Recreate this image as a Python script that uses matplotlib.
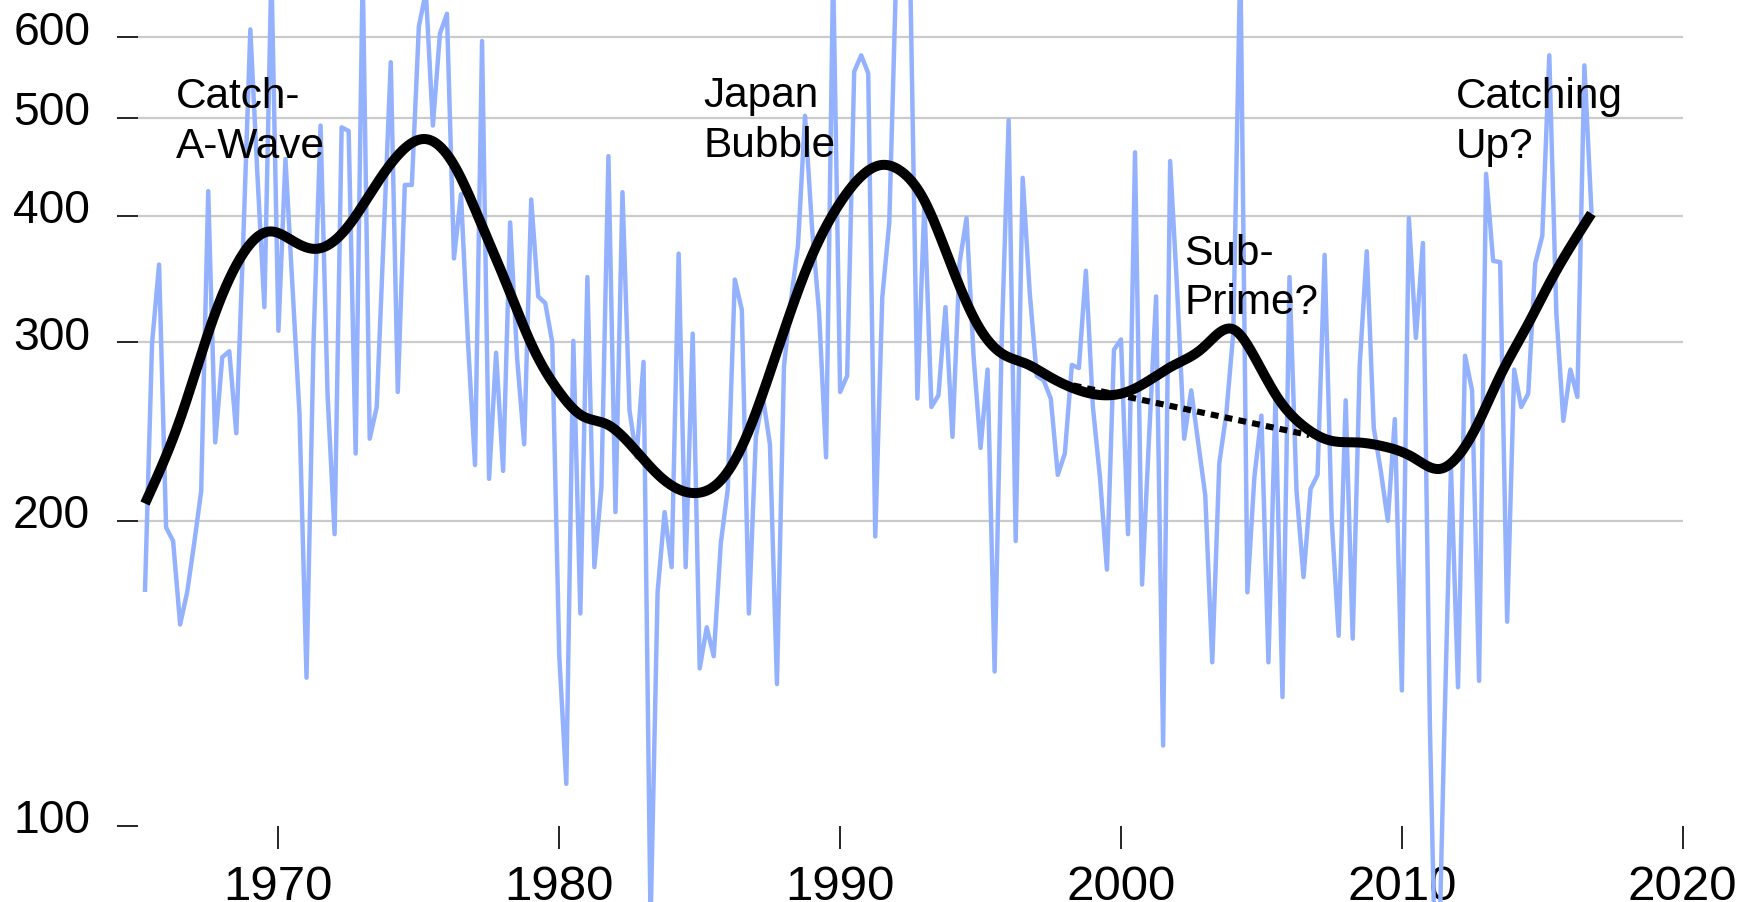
import numpy as np
import pandas as pd
import matplotlib
matplotlib.use("Agg")
import matplotlib.pyplot as plt
from matplotlib.ticker import NullLocator, NullFormatter
from matplotlib.transforms import ScaledTranslation

# Quarterly series, first observation in 1965 Q2
first_quarter = "1965Q2"
quarterly_values = [
    171, 299, 358, 197, 191, 158, 170, 190, 214, 423,
    239, 290, 294, 244, 380, 611, 440, 325, 700, 308,
    455, 340, 255, 140, 300, 491, 266, 194, 489, 485,
    233, 700, 241, 259, 383, 567, 268, 429, 429, 615,
    665, 491, 605, 633, 363, 420, 300, 227, 595, 220,
    293, 224, 394, 289, 238, 415, 333, 328, 300, 147,
    110, 301, 162, 348, 180, 216, 458, 204, 422, 257,
    231, 287, 80, 170, 204, 180, 367, 180, 306, 143,
    157, 147, 190, 215, 346, 323, 162, 242, 265, 238,
    138, 284, 330, 374, 502, 389, 321, 231, 700, 268,
    278, 555, 576, 553, 193, 332, 394, 700, 720, 680,
    264, 412, 259, 266, 325, 242, 359, 398, 291, 236,
    282, 142, 300, 497, 191, 436, 336, 278, 275, 264,
    222, 233, 285, 283, 353, 259, 221, 179, 295, 302,
    194, 462, 173, 242, 333, 120, 453, 338, 241, 269,
    239, 212, 145, 228, 255, 307, 720, 170, 221, 254,
    145, 264, 134, 348, 214, 176, 215, 222, 366, 201,
    154, 263, 153, 285, 369, 247, 224, 200, 252, 136,
    398, 303, 376, 125, 60, 120, 226, 137, 291, 269,
    139, 440, 361, 360, 159, 282, 259, 267, 359, 382,
    576, 321, 251, 282, 265, 563, 404,
]

# Long-run trend through the series
trend_years = [
    1965.25, 1966.5, 1967.65, 1968.66, 1969.7, 1970.5, 1971.3, 1972.4,
    1973.4, 1974.35, 1975.28, 1976.25, 1977.2, 1978.15, 1979.1, 1980.0,
    1980.8, 1981.7, 1982.4, 1983.6, 1984.85, 1985.8, 1986.6, 1987.5,
    1988.9, 1990.0, 1990.85, 1991.5, 1992.15, 1992.98, 1993.93, 1994.9,
    1995.8, 1996.6, 1997.4, 1998.2, 1999.4, 2000.2, 2000.9, 2001.8,
    2002.9, 2004.0, 2004.7, 2005.6, 2006.5, 2007.45, 2008.4, 2009.3,
    2010.4, 2011.35, 2011.9, 2012.6, 2013.5, 2014.45, 2015.2, 2016.75,
]
trend_values = [
    208, 252, 315, 364, 386, 378, 371, 388,
    426, 462, 476, 449, 394, 341, 295, 268,
    254, 249, 240, 221, 213, 220, 240, 280,
    360, 412, 440, 449, 443, 415, 359, 312,
    292, 286, 278, 271, 266, 268, 274, 284,
    296, 309, 292, 264, 248, 240, 239, 237,
    231, 225, 230, 246, 278, 311, 341, 402,
]

# Trend path without the mid-2000s bump
alt_years = [1998.3, 2006.7]
alt_values = [272, 243]

y_ticks = [100, 200, 300, 400, 500, 600]
x_ticks = [1970, 1980, 1990, 2000, 2010, 2020]

notes = [
    ("Catch-\nA-Wave", 1966.35, 549),
    ("Japan\nBubble", 1985.12, 551),
    ("Sub-\nPrime?", 2002.25, 385),
    ("Catching\nUp?", 2011.93, 549),
]


def smooth_curve(xk, yk, n=1200):
    """Natural cubic spline through the knots, evaluated in log space."""
    xk = np.asarray(xk, float)
    yk = np.log10(np.asarray(yk, float))
    nk = len(xk)
    h = np.diff(xk)
    A = np.zeros((nk, nk))
    r = np.zeros(nk)
    A[0, 0] = A[-1, -1] = 1.0
    for j in range(1, nk - 1):
        A[j, j - 1] = h[j - 1]
        A[j, j] = 2 * (h[j - 1] + h[j])
        A[j, j + 1] = h[j]
        r[j] = 3 * ((yk[j + 1] - yk[j]) / h[j] - (yk[j] - yk[j - 1]) / h[j - 1])
    c = np.linalg.solve(A, r)
    b = (yk[1:] - yk[:-1]) / h - h * (2 * c[:-1] + c[1:]) / 3
    d = (c[1:] - c[:-1]) / (3 * h)
    xs = np.linspace(xk[0], xk[-1], n)
    idx = np.clip(np.searchsorted(xk, xs) - 1, 0, nk - 2)
    dx = xs - xk[idx]
    ys = yk[idx] + b[idx] * dx + c[idx] * dx ** 2 + d[idx] * dx ** 3
    return xs, 10 ** ys


plt.rcParams["font.family"] = ["Liberation Sans", "DejaVu Sans"]
YTICK_FS = 33.3
XTICK_FS = 35.5
NOTE_FS = 30.5

periods = pd.period_range(first_quarter, periods=len(quarterly_values), freq="Q")
x_q = periods.year + (periods.quarter - 1) / 4.0

W, H = 1743, 903
fig = plt.figure(figsize=(W / 100, H / 100), dpi=100)
left_px, right_px = 138, 1682.7
ax = fig.add_axes([left_px / W, 0, (right_px - left_px) / W, 1])

ax.set_yscale("log")
ax.set_xlim(1965, 2020)
ax.set_ylim(84.1, 654.6)

for v in y_ticks[1:]:
    ax.axhline(v, color="#cbcbcb", lw=1.6, zorder=0)

ax.plot(x_q, quarterly_values, color="#94b1fe", lw=3.2, zorder=2)

tx, ty = smooth_curve(trend_years, trend_values)
ax.plot(tx, ty, color="black", lw=7.2, solid_capstyle="butt", zorder=3)
ax.plot(alt_years, alt_values, color="black", lw=4.4,
        linestyle=(0, (1.3, 1.0)), dash_capstyle="butt", zorder=3)

for txt, xv, yv in notes:
    ax.text(xv, yv, txt, fontsize=NOTE_FS, ha="left", va="top", color="black",
            linespacing=1.32, zorder=4)

for s in ax.spines.values():
    s.set_visible(False)
ax.spines["bottom"].set_position(("data", 100))

ax.set_yticks(y_ticks, labels=[str(v) for v in y_ticks])
ax.yaxis.set_minor_locator(NullLocator())
ax.yaxis.set_minor_formatter(NullFormatter())
ax.set_xticks(x_ticks, labels=[str(v) for v in x_ticks])

ax.tick_params(axis="y", direction="out", length=15, width=1.2, pad=19.4,
               labelsize=YTICK_FS, colors="black")
ax.tick_params(axis="x", direction="out", length=16.5, width=1.2, pad=10.8,
               labelsize=XTICK_FS, colors="black")

shift = ScaledTranslation(0, 10.5 / 100, fig.dpi_scale_trans)
for lab in ax.get_yticklabels():
    lab.set_transform(lab.get_transform() + shift)

fig.savefig("out.png", dpi=100, facecolor="white")
